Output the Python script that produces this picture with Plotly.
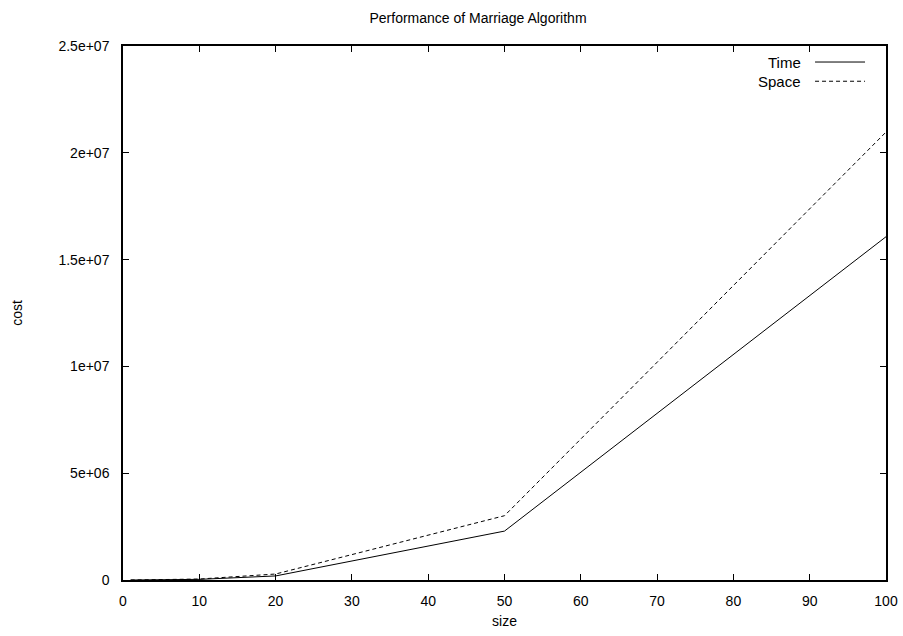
import plotly.graph_objects as go

size = [1, 5, 10, 20, 50, 100]
time_cost = [20, 3000, 30000, 190000, 2290000, 16070000]
space_cost = [40, 5000, 45000, 280000, 3010000, 20970000]

x_ticks = [0, 10, 20, 30, 40, 50, 60, 70, 80, 90, 100]
y_ticks = [0, 5e6, 1e7, 1.5e7, 2e7, 2.5e7]
y_tick_text = ["0", "5e+06", "1e+07", "1.5e+07", "2e+07", "2.5e+07"]

fig = go.Figure()
fig.add_trace(go.Scatter(x=size, y=time_cost, mode="lines", name="Time",
                         line=dict(color="black", width=1), showlegend=False))
fig.add_trace(go.Scatter(x=size, y=space_cost, mode="lines", name="Space",
                         line=dict(color="black", width=1, dash="4px,3px"), showlegend=False))

family = "Liberation Sans, Arial, sans-serif"
font = dict(family=family, size=14, color="black")
legend_font = dict(family=family, size=15, color="black")

axis_common = dict(showline=True, linecolor="black", linewidth=1.5, mirror="allticks",
                   ticks="inside", ticklen=6, tickwidth=1, tickcolor="black",
                   showgrid=False, zeroline=False, tickfont=font, automargin=False)

fig.update_xaxes(range=[0, 100], tickvals=x_ticks, ticklabelstandoff=7,
                 title=dict(text="size", font=font, standoff=9), **axis_common)
fig.update_yaxes(range=[0, 2.5e7], tickvals=y_ticks, ticktext=y_tick_text, ticklabelstandoff=9,
                 title=dict(text="cost", font=font, standoff=33), **axis_common)

legend_items = [("Time", "solid", 0.970), ("Space", "4px,3px", 0.934)]
annotations = []
shapes = []
for name, dash, yp in legend_items:
    annotations.append(dict(x=0.891, y=yp, xref="paper", yref="paper", text=name,
                            showarrow=False, xanchor="right", yanchor="middle", font=legend_font))
    shapes.append(dict(type="line", xref="paper", yref="paper", x0=0.907, x1=0.9725,
                       y0=yp, y1=yp, line=dict(color="black", width=1, dash=dash)))

W, H = 903, 636
fig.update_layout(
    width=W, height=H,
    margin=dict(l=123, r=17, t=46, b=56),
    paper_bgcolor="white", plot_bgcolor="white",
    title=dict(text="Performance of Marriage Algorithm", x=478 / W, xref="container",
               xanchor="center", y=1 - 18 / H, yanchor="middle", font=font),
    font=font,
    annotations=annotations,
    shapes=shapes,
)

fig.write_html("out.html", config={"displayModeBar": False},
               post_script="document.body.style.margin='0px';document.body.style.overflow='hidden';")
